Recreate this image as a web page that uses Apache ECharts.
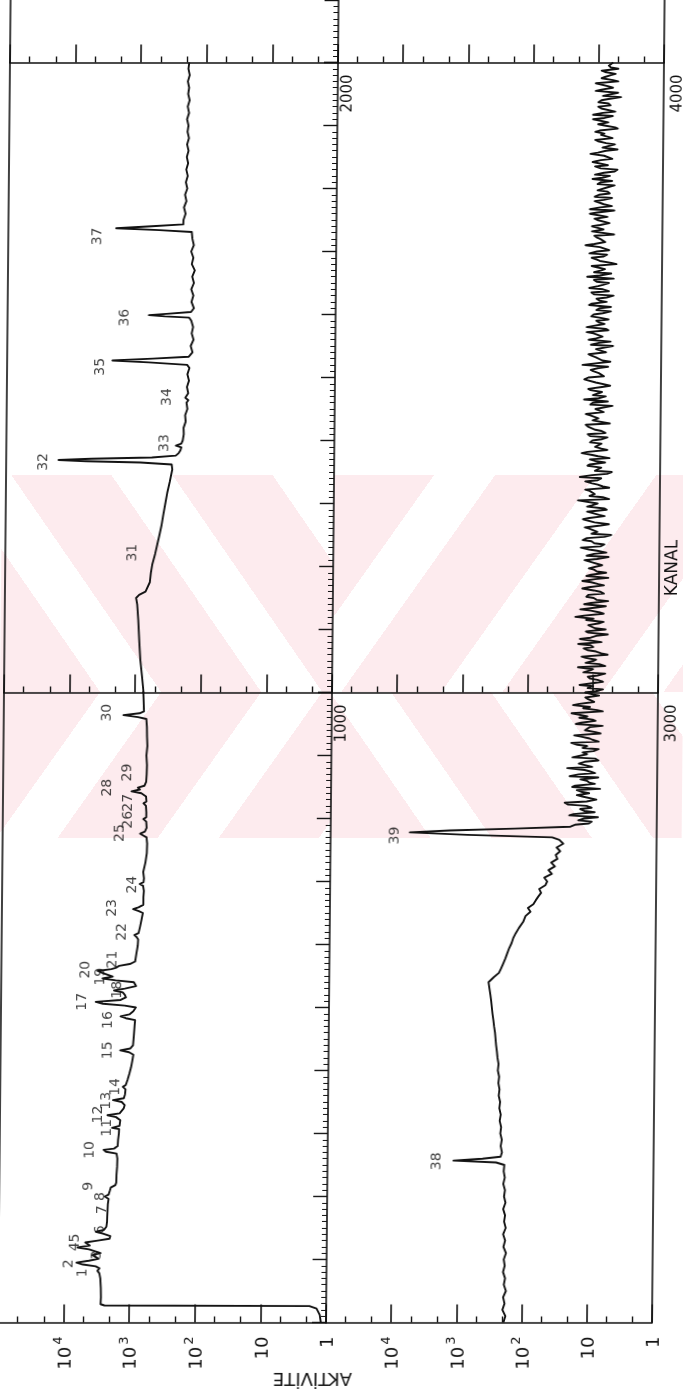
<!DOCTYPE html>
<html>
<head>
<meta charset="utf-8">
<script src="https://cdn.jsdelivr.net/npm/echarts@6/dist/echarts.min.js"></script>
<style>
  html, body { margin: 0; padding: 0; background: #fff; }
  #wrap { position: relative; width: 683px; height: 1392px; transform: skewX(-0.545deg); transform-origin: 0 692px; }
  #chart { position: absolute; left: 0; top: 0; width: 683px; height: 1392px; }
  .band { position: absolute; }
  .down { background: repeating-linear-gradient(55deg, #fdebee 0px 82px, rgba(255,255,255,0) 82px 132px); }
  .up { background: repeating-linear-gradient(125deg, #fdebee 0px 82px, rgba(255,255,255,0) 82px 132px); }
</style>
</head>
<body>
<div id="wrap">
  <!-- pale striped backdrop behind the middle of the sheet -->
  <div class="band down" style="left:0;top:475px;width:332px;height:217px;"></div>
  <div class="band up" style="left:332px;top:475px;width:351px;height:217px;"></div>
  <div class="band up" style="left:0;top:692px;width:332px;height:146px;"></div>
  <div class="band down" style="left:332px;top:692px;width:351px;height:146px;"></div>
  <div id="chart"></div>
</div>
<script>
// Gamma spectrum, channels 0-2000 (left strip) and 2000-4000 (right strip),
// activity on a logarithmic scale. Pairs are [channel, counts].
const panel1Trace = [
  [0,1.2],[12,1.25],[22,1.4],[26,1.8],[27,2400],[29,2750],[40,2720],[55,2740],[70,2800],[78,2900],
  [82,3100],[86,2900],[89,3300],[92,5200],[95,6500],[98,4200],[101,3000],[104,2850],[107,3700],[110,2800],
  [113,2700],[116,4200],[119,6300],[122,4100],[125,3900],[127,4800],[130,3100],[133,2050],[137,2000],[141,2600],
  [144,3300],[147,2500],[152,2300],[160,2250],[168,2240],[178,2220],[188,2200],[196,2150],[200,2450],[203,2150],
  [210,2050],[214,2000],[218,1700],[222,1650],[235,1640],[247,1610],[260,1600],[268,1650],[271,2400],[274,2600],
  [276,1800],[280,1590],[290,1570],[300,1530],[307,1520],[309,1950],[312,1500],[321,1465],[326,1700],[329,2300],
  [332,1500],[340,1300],[345,1260],[350,1400],[353,1900],[356,1300],[362,1250],[370,1230],[374,1350],[377,1220],
  [385,1150],[395,1080],[405,1020],[415,980],[425,945],[429,1100],[432,1500],[435,1050],[440,960],[455,935],
  [470,915],[480,900],[483,1250],[486,1500],[489,1100],[494,960],[500,880],[503,1300],[506,2800],[509,3600],
  [512,1500],[516,1250],[520,1300],[524,1400],[527,1900],[530,1300],[534,880],[540,950],[543,1800],[546,2860],
  [549,2000],[552,1900],[555,2900],[558,3400],[561,2100],[563,1800],[566,1600],[569,1100],[573,915],[585,880],
  [598,840],[608,830],[612,880],[615,950],[618,820],[628,780],[640,740],[650,710],[653,820],[656,1000],
  [659,830],[663,700],[675,700],[685,690],[693,710],[696,800],[699,700],[705,690],[715,710],[730,660],
  [745,630],[760,625],[770,640],[773,720],[776,800],[779,680],[785,640],[795,650],[799,720],[802,650],
  [810,650],[820,660],[824,720],[827,650],[835,660],[840,780],[843,1100],[846,820],[849,880],[852,700],
  [858,660],[870,650],[885,645],[900,660],[915,640],[930,650],[945,655],[958,670],[961,900],[964,1500],
  [967,850],[970,730],[985,740],[1004,753],[1025,790],[1052,845],[1080,880],[1115,920],[1140,960],[1150,1000],
  [1155,900],[1160,720],[1163,680],[1175,620],[1190,600],[1203,573],[1220,520],[1235,484],[1250,450],[1265,420],
  [1282,396],[1300,370],[1317,347],[1335,318],[1354,293],[1362,300],[1365,900],[1367,6000],[1369,15900],[1371,5000],
  [1373,600],[1376,260],[1380,235],[1384,222],[1389,215],[1392,260],[1395,215],[1400,205],[1410,198],[1420,200],
  [1430,186],[1440,190],[1450,176],[1460,182],[1464,171],[1468,190],[1471,200],[1475,172],[1485,180],[1495,168],
  [1505,178],[1515,166],[1520,180],[1524,700],[1527,2480],[1530,600],[1533,170],[1540,150],[1550,160],[1560,145],
  [1570,155],[1580,148],[1590,158],[1595,170],[1597,400],[1599,700],[1601,380],[1604,160],[1610,145],[1620,158],
  [1630,148],[1640,160],[1650,146],[1660,155],[1670,142],[1680,158],[1690,150],[1700,162],[1710,148],[1720,156],
  [1731,160],[1734,500],[1737,2270],[1740,650],[1743,216],[1750,215],[1760,200],[1770,212],[1780,195],[1790,205],
  [1800,190],[1810,200],[1820,188],[1830,198],[1840,186],[1850,195],[1860,184],[1870,194],[1880,182],[1890,192],
  [1900,186],[1910,196],[1920,183],[1930,192],[1940,180],[1950,190],[1960,184],[1970,193],[1980,181],[1990,190],
  [2000,185]
];

// Right strip: baseline, peak 38, Compton edge, peak 39, then the noisy tail.
const panel2Head = [
  [2000,190],[2010,178],[2020,198],[2030,184],[2040,194],[2050,176],[2060,190],[2070,182],[2080,196],[2090,185],
  [2100,192],[2110,178],[2120,195],[2130,184],[2140,198],[2150,181],[2160,192],[2170,186],[2180,199],[2190,184],
  [2200,194],[2210,188],[2220,200],[2230,190],[2240,198],[2250,194],[2254,260],[2257,1170],[2260,420],[2263,222],
  [2270,212],[2280,222],[2290,214],[2300,226],[2310,220],[2320,232],[2330,224],[2340,236],[2350,230],[2360,242],
  [2370,236],[2380,246],[2390,240],[2400,252],[2410,246],[2420,256],[2430,262],[2440,270],[2450,276],[2460,282],
  [2470,292],[2480,300],[2490,310],[2500,318],[2510,326],[2520,336],[2530,348],[2540,360],[2548,300],[2555,250],
  [2562,232],[2570,215],[2578,200],[2586,188],[2594,176],[2602,162],[2610,153],[2618,140],[2626,126],[2636,108],
  [2645,100],[2652,84],[2658,92],[2664,76],[2670,70],[2676,64],[2682,58],[2688,62],[2694,50],[2700,47],
  [2706,52],[2712,40],[2718,45],[2724,36],[2730,41],[2736,33],[2742,35],[2748,30],[2754,34],[2760,27],
  [2766,31],[2770,40],[2774,800],[2778,6100],[2781,1500],[2784,150],[2787,21]
];
const panel2Tail = [
  [2790,18],[2792,11],[2795,10],[2797,16],[2800,13],[2802,8],[2805,22],[2807,19],[2810,9],[2812,13],
  [2815,15],[2817,10],[2820,12],[2822,23],[2825,26],[2827,12],[2830,8.5],[2832,9],[2835,14],[2837,17],
  [2840,11],[2842,14],[2845,17],[2847,7.5],[2850,20],[2852,18],[2855,9],[2857,11],[2860,12],[2862,15],
  [2865,8],[2867,22],[2870,16],[2872,9],[2875,11],[2877,13],[2880,24],[2882,10],[2885,10],[2887,16],
  [2890,13],[2892,8],[2895,9],[2897,20],[2900,19],[2902,12],[2905,14],[2907,9.5],[2910,8],[2912,14],
  [2915,12],[2917,17],[2920,21],[2922,8],[2925,10],[2927,11],[2930,15],[2932,19],[2935,7.5],[2937,9],
  [2940,13],[2942,13],[2945,11],[2947,7],[2950,18],[2952,15],[2955,9],[2957,10],[2960,16],[2962,12],
  [2965,12],[2967,21],[2970,7],[2972,8.5],[2975,14],[2977,11],[2980,20],[2982,16],[2985,9.5],[2987,9],
  [2990,12],[2992,13],[2995,8],[2997,10],
  [3000,13],[3002,9],[3005,7],[3007,12],[3010,10],[3012,16],[3015,15],[3017,7],[3020,8.5],[3022,11],
  [3025,12],[3027,8.5],[3030,6.5],[3032,14],[3035,11],[3037,10],[3040,17],[3042,6.5],[3045,8],[3047,13],
  [3050,10],[3052,9],[3055,13],[3057,15],[3060,6],[3062,7.5],[3065,9],[3067,12],[3070,14],[3072,10],
  [3075,11],[3077,17],[3080,7.5],[3082,8],[3085,16],[3087,11],[3090,9],[3092,6],[3095,12],[3097,13],
  [3100,6.5],[3102,9.5],[3105,10],[3107,12],[3110,8],[3112,7],[3115,13],[3117,10],[3120,19],[3122,14],
  [3125,7],[3127,8],[3130,11],[3132,16],[3135,9],[3137,6.5],[3140,14],[3142,11],[3145,6],[3147,9],
  [3150,10],[3152,13],[3155,12],[3157,7],[3160,8],[3162,10],[3165,15],[3167,12],[3170,7],[3172,8.5],
  [3175,11],[3177,15],[3180,9.5],[3182,6],[3185,13],[3187,11],[3190,6.5],[3192,9],[3195,10],[3197,12],
  [3200,12],[3202,7.5],[3205,8],[3207,11],[3210,14],[3212,9],[3215,6],[3217,13],[3220,10],[3222,6.5],
  [3225,9],[3227,12],[3230,16],[3232,8],[3235,7],[3237,10],[3240,11],[3242,15],[3245,13],[3247,7],
  [3250,5.5],[3252,11],[3255,9],[3257,9],[3260,12],[3262,14],[3265,8],[3267,6],[3270,10],[3272,10],
  [3275,15],[3277,12],[3280,7],[3282,8.5],[3285,11],[3287,13],[3290,6.5],[3292,7],[3295,13],[3297,11],
  [3300,9],[3302,9],[3305,18],[3307,6],[3310,7.5],[3312,12],[3315,10],[3317,10],[3320,12],[3322,14],
  [3325,6],[3327,7.5],[3330,9],[3332,11],[3335,14],[3337,9],[3340,8],[3342,17],[3345,11],[3347,6.5],
  [3350,5.5],[3352,10],[3355,10],[3357,8],[3360,13],[3362,12],[3365,7],[3367,9.5],[3370,12],[3372,6],
  [3375,9],[3377,11],[3380,16],[3382,13],[3385,6.5],[3387,8],[3390,10],[3392,10],[3395,8],[3397,12],
  [3400,11],[3402,8],[3405,6.5],[3407,12],[3410,13],[3412,7],[3415,8],[3417,10],[3420,10],[3422,13],
  [3425,14],[3427,6],[3430,6],[3432,11],[3435,9],[3437,9],[3440,12],[3442,14],[3445,7.5],[3447,7],
  [3450,10],[3452,10],[3455,5.5],[3457,12],[3460,11],[3462,6.5],[3465,15],[3467,9],[3470,7],[3472,11],
  [3475,9],[3477,8],[3480,12],[3482,13],[3485,8],[3487,6],[3490,6],[3492,10],[3495,10],[3497,15],
  [3500,13],[3502,7.5],[3505,7],[3507,9],[3510,11],[3512,12],[3515,9],[3517,6.5],[3520,16],[3522,11],
  [3525,6],[3527,8],[3530,8.5],[3532,10],[3535,12],[3537,13],[3540,7],[3542,7],[3545,10],[3547,9.5],
  [3550,5.5],[3552,12],[3555,9],[3557,6],[3560,13],[3562,10],[3565,8],[3567,8],[3570,11],[3572,14],
  [3575,6.5],[3577,7],[3580,14],[3582,11],[3585,7.5],[3587,9],[3590,10],[3592,6.5],[3595,9],[3597,12],
  [3600,11],[3602,8],[3605,6],[3607,10],[3610,9],[3612,6],[3615,13],[3617,12],[3620,7],[3622,9],
  [3625,10],[3627,7],[3630,5.5],[3632,11],[3635,12],[3637,6.5],[3640,8],[3642,13],[3645,9.5],[3647,8],
  [3650,6.5],[3652,10],[3655,11],[3657,5.5],[3660,14],[3662,9],[3665,6],[3667,11],[3670,8.5],[3672,7.5],
  [3675,10],[3677,12],[3680,5],[3682,6],[3685,9],[3687,10],[3690,12],[3692,8],[3695,7],[3697,13],
  [3700,10],[3702,6.5],[3705,6.5],[3707,9],[3710,15],[3712,11],[3715,7.5],[3717,7],[3720,9],[3722,10],
  [3725,11],[3727,5.5],[3730,5.5],[3732,12],[3735,8],[3737,8],[3740,12],[3742,9],[3745,6.5],[3747,6.5],
  [3750,10],[3752,11],[3755,7],[3757,7],[3760,13],[3762,10],[3765,5.5],[3767,13],[3770,9],[3772,6],
  [3775,8],[3777,9],[3780,11],[3782,8],[3785,6],[3787,11],[3790,9.5],[3792,6.5],[3795,7],[3797,10],
  [3800,10],[3802,7],[3805,5.5],[3807,10],[3810,9],[3812,6],[3815,12],[3817,8.5],[3820,6.5],[3822,11],
  [3825,8],[3827,5.5],[3830,5],[3832,9],[3835,11],[3837,7],[3840,7],[3842,12],[3845,9],[3847,6],
  [3850,6],[3852,8],[3855,13],[3857,10],[3860,7.5],[3862,5],[3865,8.5],[3867,9],[3870,5.5],[3872,7.5],
  [3875,10],[3877,11],[3880,6],[3882,6],[3885,9],[3887,8],[3890,11],[3892,9.5],[3895,5],[3897,5.5],
  [3900,8],[3902,10],[3905,7],[3907,7],[3910,12],[3912,8],[3915,6],[3917,12],[3920,8.5],[3922,5.5],
  [3925,5.5],[3927,9],[3930,10],[3932,6.5],[3935,7],[3937,10],[3940,9],[3942,7],[3945,4.5],[3947,8.5],
  [3950,8],[3952,5],[3955,11],[3957,9],[3960,6],[3962,7],[3965,7.5],[3967,11],[3970,5],[3972,6],
  [3975,9],[3977,8],[3980,6.5],[3982,5.5],[3985,8],[3987,9],[3990,5],[3992,6.5],[3995,7],[3997,7.5],
  [4000,6]
];
const panel2Trace = panel2Head.concat(panel2Tail);

// Peak numbers: [activity where the number sits, channel, number]
const peakLabels1 = [
  [5250,79,'1'],[8600,93,'2'],[3120,107,'3'],[6750,120,'4'],[6750,134,'5'],[2830,147,'6'],[2660,179,'7'],
  [2870,200,'8'],[4390,216,'9'],[4130,274,'10'],[2300,309,'11'],[3160,330,'12'],[2400,352,'13'],[1760,374,'14'],
  [2280,432,'15'],[2300,480,'16'],[5770,509,'17'],[1700,528,'18'],[3090,549,'19'],[5250,560,'20'],[2040,576,'21'],
  [1450,620,'22'],[2080,658,'23'],[1040,695,'24'],[1610,777,'25'],[1220,798,'26'],[1230,825,'27'],[2580,849,'28'],
  [1280,873,'29'],[2640,968,'30'],[1160,1222,'31'],[27000,1366,'32'],[379,1396,'33'],[358,1469,'34'],
  [3790,1517,'35'],[1600,1595,'36'],[4280,1724,'37']
];
const peakLabels2 = [[2100,2256,'38'],[10300,2773,'39']];

const decadeTicks = [1, 10, 100, 1000, 10000, 100000];
const minorLogTicks = [2, 5, 20, 50, 200, 500, 2000, 5000, 20000, 50000];
const activityLabelValues = [1, 10, 100, 1000, 10000];
const activityLabelText = {
  1: '{base|1}', 10: '{base|10}', 100: '{base|10}{sup|2}', 1000: '{base|10}{sup|3}', 10000: '{base|10}{sup|4}'
};
const channelLabels1 = [1000, 2000];
const channelLabels2 = [3000, 4000];

const FONT = 'DejaVu Sans';
const INK = '#111';

const columns = [
  { left: 4, width: 328, ranges: [[0, 1000], [1000, 2000], [2000, 2100]],
    labels: channelLabels1, ticks: true, leftEdge: true, peaks: peakLabels1, trace: panel1Trace, labelMargin: 3 },
  { left: 332, width: 326, ranges: [[2000, 3000], [3000, 4000], [4000, 4100]],
    labels: channelLabels2, ticks: false, leftEdge: false, peaks: peakLabels2, trace: panel2Trace, labelMargin: 7 }
];
const rows = [ { top: 692.5, height: 630 }, { top: 62.5, height: 630 }, { top: -0.5, height: 63 } ];

const grid = [], xAxis = [], yAxis = [], series = [];

columns.forEach(col => {
  rows.forEach((row, r) => {
    const g = grid.length;
    grid.push({ left: col.left, top: row.top, width: col.width, height: row.height, containLabel: false });

    const xi = xAxis.length;
    xAxis.push({
      gridIndex: g, type: 'log', logBase: 10, min: 1, max: 100000, inverse: true, position: 'bottom',
      axisLine: { show: true, lineStyle: { color: INK, width: 1.6 } },
      axisTick: { show: true, inside: true, length: 18, customValues: decadeTicks, lineStyle: { color: INK, width: 1.6 } },
      axisLabel: {
        show: r === 0, customValues: activityLabelValues, rotate: 90, margin: 14,
        color: INK,
        formatter: v => activityLabelText[Math.round(v)] || '',
        rich: {
          base: { fontFamily: FONT, fontSize: 18, color: INK, lineHeight: 23, verticalAlign: 'bottom' },
          sup: { fontFamily: FONT, fontSize: 13, color: INK, lineHeight: 13, verticalAlign: 'top', padding: [0, 0, 0, 2] }
        }
      },
      splitLine: { show: false }
    });
    xAxis.push({
      gridIndex: g, type: 'log', logBase: 10, min: 1, max: 100000, inverse: true, position: 'bottom',
      axisLine: { show: false },
      axisTick: { show: true, inside: true, length: 6, customValues: minorLogTicks, lineStyle: { color: INK, width: 1.4 } },
      axisLabel: { show: false }, splitLine: { show: false }
    });

    const yi = yAxis.length;
    const [lo, hi] = col.ranges[r];
    yAxis.push({
      gridIndex: g, type: 'value', min: lo, max: hi, interval: 100, position: 'right',
      axisLine: { show: true, lineStyle: { color: INK, width: 1.6 } },
      axisTick: { show: col.ticks, inside: true, length: 14, lineStyle: { color: INK, width: 1.4 } },
      minorTick: { show: col.ticks, splitNumber: 10, length: 5, lineStyle: { color: INK, width: 1 } },
      axisLabel: {
        show: r === 1, customValues: col.labels, rotate: 90, margin: col.labelMargin,
        fontFamily: FONT, fontSize: 15, color: INK, padding: [0, 62, 0, 0],
        formatter: v => String(Math.round(v))
      },
      splitLine: { show: false }
    });
    if (col.leftEdge) {
      yAxis.push({
        gridIndex: g, type: 'value', min: lo, max: hi, position: 'left',
        axisLine: { show: true, lineStyle: { color: INK, width: 1.6 } },
        axisTick: { show: false }, axisLabel: { show: false }, splitLine: { show: false }
      });
    }

    if (r < 2) {
      series.push({
        type: 'line', xAxisIndex: xi, yAxisIndex: yi, data: col.trace.map(p => [p[1], p[0]]),
        symbol: 'none', clip: true, animation: false, silent: true,
        lineStyle: { color: INK, width: 1.9, join: 'round' }
      });
      series.push({
        type: 'scatter', xAxisIndex: xi, yAxisIndex: yi, data: col.peaks, clip: true,
        symbol: 'circle', symbolSize: 1, itemStyle: { color: 'rgba(0,0,0,0)' }, silent: true, animation: false,
        label: {
          show: true, position: 'inside', rotate: 90, formatter: p => p.value[2],
          fontFamily: FONT, fontSize: 14, color: INK
        }
      });
    }
  });
});

const chart = echarts.init(document.getElementById('chart'), null, { renderer: 'canvas' });
chart.setOption({
  backgroundColor: 'transparent',
  animation: false,
  grid, xAxis, yAxis, series,
  graphic: [
    { type: 'text', x: 319, y: 1378, rotation: Math.PI,
      style: { text: 'AKTİVİTE', fontFamily: FONT, fontSize: 18, fill: INK, align: 'center', verticalAlign: 'middle' } },
    { type: 'text', x: 672, y: 568, rotation: Math.PI / 2,
      style: { text: 'KANAL', fontFamily: FONT, fontSize: 17, fill: INK, align: 'center', verticalAlign: 'middle' } }
  ]
});
</script>
</body>
</html>
